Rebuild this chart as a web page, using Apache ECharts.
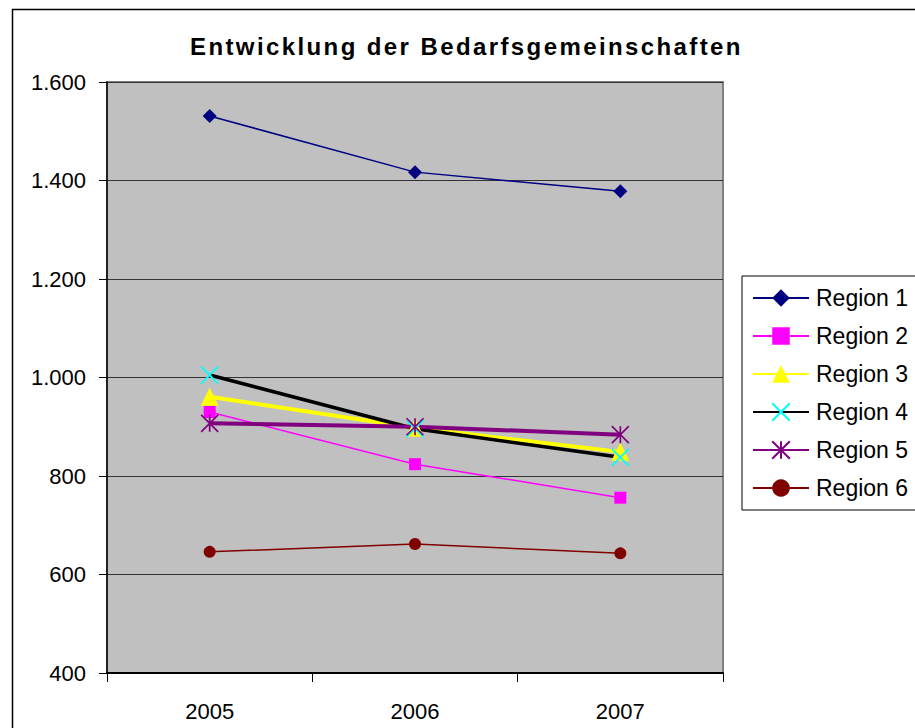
<!DOCTYPE html>
<html>
<head>
<meta charset="utf-8">
<script src="https://cdn.jsdelivr.net/npm/echarts@6/dist/echarts.min.js"></script>
<style>
  html, body { margin: 0; padding: 0; background: #fff; }
  #chart { width: 915px; height: 728px; }
</style>
</head>
<body>
<div id="chart"></div>
<script>
  // Daten
  var titleText = 'Entwicklung der Bedarfsgemeinschaften';
  var years = ['2005', '2006', '2007'];
  var yTicks = [400, 600, 800, 1000, 1200, 1400, 1600];
  var region1 = [1531, 1417, 1378];
  var region2 = [930, 824, 756];
  var region3 = [961, 898, 849];
  var region4 = [1005, 896, 838];
  var region5 = [907, 900, 884];
  var region6 = [646, 662, 643];

  var font = '"Liberation Sans", Arial, sans-serif';
  var xMark = 'path://M0 0 L10 10 M10 0 L0 10';
  var starMark = 'path://M0 0 L10 10 M10 0 L0 10 M5 0 L5 10';

  function fmt(v) {
    return String(v).replace(/\B(?=(\d{3})+(?!\d))/g, '.');
  }

  function line(name, data, lineColor, lineWidth, markColor, symbol, size, stroke) {
    return {
      name: name,
      type: 'line',
      data: data,
      symbol: symbol,
      symbolSize: size,
      showAllSymbol: true,
      lineStyle: { color: lineColor, width: lineWidth },
      itemStyle: stroke
        ? { color: markColor, borderColor: markColor, borderWidth: 1.7 }
        : { color: markColor, borderWidth: 0 },
      emphasis: { disabled: true }
    };
  }

  var chart = echarts.init(document.getElementById('chart'), null, { renderer: 'svg' });
  chart.setOption({
    animation: false,
    textStyle: { fontFamily: font },
    title: {
      text: titleText,
      left: 190,
      top: 34,
      padding: 0,
      textStyle: { fontSize: 24, fontWeight: 'bold', color: '#000', fontFamily: font }
    },
    graphic: [{
      type: 'rect',
      left: 10,
      top: 7,
      shape: { width: 1000, height: 1000 },
      style: { fill: 'none', stroke: '#000', lineWidth: 1.5 },
      silent: true,
      z: -1
    }],
    legend: {
      orient: 'vertical',
      left: 742,
      top: 276,
      padding: [10, 30, 10, 10],
      borderColor: '#000',
      borderWidth: 1,
      itemWidth: 56,
      itemHeight: 22,
      itemGap: 14,
      textStyle: { fontSize: 23, color: '#000', lineHeight: 24, padding: [0, 0, 0, 2], fontFamily: font },
      data: ['Region 1', 'Region 2', 'Region 3', 'Region 4', 'Region 5', 'Region 6']
    },
    grid: {
      left: 107,
      top: 82,
      width: 616,
      height: 591,
      show: true,
      backgroundColor: '#C0C0C0',
      borderColor: '#808080',
      borderWidth: 2
    },
    xAxis: {
      type: 'category',
      data: years,
      boundaryGap: true,
      axisLine: { lineStyle: { color: '#000', width: 2 } },
      axisTick: { show: true, length: 9, lineStyle: { color: '#000' } },
      axisLabel: { fontSize: 22, color: '#000', margin: 27, fontFamily: font }
    },
    yAxis: {
      type: 'value',
      min: yTicks[0],
      max: yTicks[yTicks.length - 1],
      interval: yTicks[1] - yTicks[0],
      axisLine: { show: true, lineStyle: { color: '#000', width: 1.5 } },
      axisTick: { show: true, length: 8, lineStyle: { color: '#000' } },
      axisLabel: { fontSize: 22, color: '#000', margin: 21, formatter: fmt, fontFamily: font },
      splitLine: { show: true, lineStyle: { color: '#333', width: 1 } }
    },
    series: [
      line('Region 1', region1, '#000080', 1.5, '#000080', 'diamond', 14, false),
      line('Region 2', region2, '#FF00FF', 1.5, '#FF00FF', 'rect', 12, false),
      line('Region 3', region3, '#FFFF00', 4, '#FFFF00', 'triangle', 18, false),
      line('Region 4', region4, '#000000', 3.5, '#00FFFF', xMark, 17, true),
      line('Region 5', region5, '#800080', 4, '#800080', starMark, 17, true),
      line('Region 6', region6, '#800000', 1.5, '#800000', 'circle', 12, false)
    ]
  });

  // Titel gesperrt wie im Original
  function spaceTitle() {
    var texts = document.querySelectorAll('#chart text');
    for (var i = 0; i < texts.length; i++) {
      if (texts[i].textContent === titleText) {
        texts[i].style.letterSpacing = '2.4px';
      }
    }
  }
  chart.on('finished', spaceTitle);
  setTimeout(spaceTitle, 50);
</script>
</body>
</html>
